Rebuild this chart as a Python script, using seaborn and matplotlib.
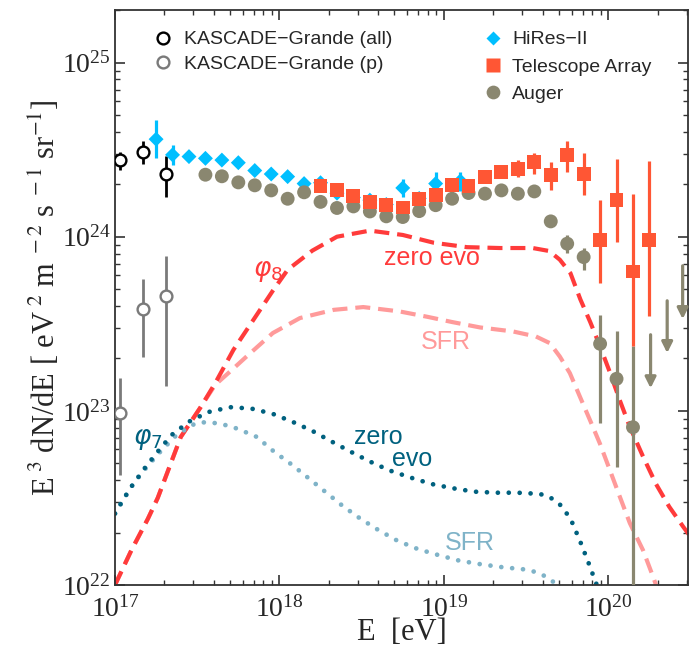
import numpy as np
import pandas as pd
import matplotlib
matplotlib.use('Agg')
import matplotlib.pyplot as plt
import seaborn as sns
from matplotlib.ticker import LogLocator, NullFormatter
from matplotlib.lines import Line2D

# ---- data (log10 E [eV], log10 E^3 dN/dE) ----
kg_all_logE = [17.03, 17.17, 17.31]
kg_all_logF = [24.44, 24.485, 24.36]
kg_all_hi = [24.485, 24.548, 24.462]
kg_all_lo = [24.381, 24.42, 24.228]

kg_p_logE = [17.03, 17.17, 17.31]
kg_p_logF = [22.99, 23.587, 23.66]
kg_p_hi = [23.19, 23.76, 23.89]
kg_p_lo = [22.63, 23.31, 23.14]

hires_logE = [17.25, 17.35, 17.45, 17.55, 17.65, 17.75, 17.85, 17.95, 18.05, 18.15,
              18.25, 18.35, 18.45, 18.55, 18.65, 18.75, 18.85, 18.95, 19.10]
hires_logF = [24.56, 24.47, 24.46, 24.45, 24.44, 24.425, 24.38, 24.36, 24.345, 24.305,
              24.31, 24.25, 24.225, 24.21, 24.185, 24.28, 24.22, 24.305, 24.32]
hires_hi = [24.67, 24.525, 24.48, 24.47, 24.46, 24.445, 24.40, 24.38, 24.365, 24.325,
            24.33, 24.27, 24.245, 24.23, 24.205, 24.33, 24.24, 24.37, 24.37]
hires_lo = [24.45, 24.41, 24.44, 24.43, 24.42, 24.405, 24.36, 24.34, 24.325, 24.285,
            24.29, 24.23, 24.205, 24.19, 24.165, 24.23, 24.20, 24.25, 24.26]

ta_logE = [18.25, 18.35, 18.45, 18.55, 18.65, 18.75, 18.85, 18.95, 19.05, 19.15, 19.25,
           19.35, 19.45, 19.55, 19.65, 19.75, 19.85, 19.95, 20.05, 20.15, 20.25]
ta_logF = [24.289, 24.266, 24.232, 24.20, 24.18, 24.168, 24.218, 24.238, 24.299, 24.293, 24.343,
           24.372, 24.391, 24.429, 24.356, 24.471, 24.362, 23.983, 24.209, 23.80, 23.983]
ta_hi = [24.30, 24.28, 24.245, 24.215, 24.195, 24.18, 24.235, 24.255, 24.32, 24.315, 24.365,
         24.40, 24.44, 24.481, 24.427, 24.548, 24.481, 24.213, 24.447, 24.247, 24.433]
ta_lo = [24.28, 24.255, 24.22, 24.185, 24.165, 24.155, 24.20, 24.22, 24.28, 24.27, 24.32,
         24.345, 24.34, 24.362, 24.266, 24.372, 24.241, 23.737, 23.967, 23.37, 23.546]

auger_logE = [17.55, 17.65, 17.75, 17.85, 17.95, 18.05, 18.15, 18.25, 18.35, 18.45, 18.55,
              18.65, 18.75, 18.85, 18.95, 19.05, 19.15, 19.25, 19.35, 19.45, 19.55, 19.65,
              19.75, 19.85, 19.95, 20.05, 20.15]
auger_logF = [24.356, 24.347, 24.312, 24.295, 24.266, 24.218, 24.255, 24.20, 24.165, 24.174, 24.145,
              24.117, 24.113, 24.147, 24.181, 24.218, 24.251, 24.247, 24.266, 24.247, 24.26, 24.088,
              23.96, 23.883, 23.385, 23.184, 22.906]
auger_hi = [24.37, 24.36, 24.325, 24.31, 24.28, 24.23, 24.27, 24.215, 24.18, 24.19, 24.16,
            24.13, 24.13, 24.16, 24.195, 24.235, 24.265, 24.265, 24.285, 24.265, 24.28, 24.12,
            24.011, 23.935, 23.552, 23.456, 23.374]
auger_lo = [24.34, 24.33, 24.30, 24.28, 24.25, 24.205, 24.24, 24.185, 24.15, 24.16, 24.13,
            24.10, 24.10, 24.13, 24.165, 24.20, 24.235, 24.23, 24.25, 24.23, 24.24, 24.06,
            23.906, 23.81, 22.933, 22.676, 21.0]

# Auger upper limits (arrow top / arrow tip)
ul_logE = [20.257, 20.358, 20.452]
ul_top = [23.437, 23.632, 23.833]
ul_tip = [23.13, 23.332, 23.527]

# model curves
p8_zero_logE = [17.0, 17.1, 17.2, 17.26, 17.40, 17.52, 17.61, 17.72, 17.84, 17.96, 18.05, 18.2,
                18.35, 18.55, 18.75, 18.94, 19.14, 19.34, 19.54, 19.64, 19.705, 19.77, 19.83,
                19.89, 19.95, 20.01, 20.07, 20.13, 20.21, 20.29, 20.37, 20.455, 20.49]
p8_zero_logF = [22.0, 22.2, 22.38, 22.50, 22.85, 23.02, 23.16, 23.35, 23.52, 23.69, 23.81, 23.92,
                24.00, 24.035, 24.01, 23.965, 23.94, 23.935, 23.935, 23.918, 23.868, 23.79, 23.64,
                23.51, 23.37, 23.22, 23.06, 22.91, 22.74, 22.58, 22.45, 22.335, 22.29]

p8_sfr_logE = [17.0, 17.1, 17.2, 17.26, 17.40, 17.52, 17.61, 17.70, 17.80, 17.96, 18.125, 18.33,
               18.51, 18.73, 18.9, 19.05, 19.22, 19.42, 19.56, 19.644, 19.705, 19.766, 19.827,
               19.888, 19.948, 20.009, 20.07, 20.131, 20.211, 20.272, 20.29]
p8_sfr_logF = [22.0, 22.2, 22.38, 22.5, 22.85, 23.02, 23.15, 23.226, 23.312, 23.447, 23.533, 23.58,
               23.596, 23.571, 23.54, 23.51, 23.479, 23.456, 23.427, 23.389, 23.312, 23.217, 23.082,
               22.948, 22.814, 22.661, 22.507, 22.355, 22.20, 22.048, 22.0]

p7_zero_logE = [17.0, 17.05, 17.10, 17.18, 17.26, 17.345, 17.452, 17.567, 17.70, 17.83, 17.959,
                18.08, 18.2, 18.317, 18.432, 18.55, 18.672, 18.797, 18.925, 19.052, 19.184,
                19.316, 19.448, 19.584, 19.644, 19.699, 19.74, 19.776, 19.827, 19.877, 19.922, 19.93]
p7_zero_logF = [22.41, 22.49, 22.565, 22.67, 22.766, 22.862, 22.939, 22.993, 23.021, 23.013, 22.983,
                22.937, 22.885, 22.824, 22.766, 22.709, 22.657, 22.617, 22.58, 22.556, 22.536,
                22.53, 22.53, 22.523, 22.504, 22.47, 22.421, 22.368, 22.255, 22.134, 22.019, 22.0]

p7_sfr_logE = [17.0, 17.05, 17.10, 17.162, 17.26, 17.375, 17.49, 17.553, 17.618, 17.683, 17.746,
               17.861, 17.967, 18.074, 18.175, 18.283, 18.382, 18.489, 18.601, 18.716, 18.84,
               18.966, 19.093, 19.225, 19.357, 19.486, 19.553, 19.61, 19.664, 19.68]
p7_sfr_logF = [22.41, 22.49, 22.565, 22.642, 22.75, 22.862, 22.929, 22.935, 22.929, 22.916, 22.897,
               22.851, 22.766, 22.692, 22.615, 22.532, 22.456, 22.383, 22.316, 22.255, 22.207,
               22.172, 22.14, 22.119, 22.102, 22.09, 22.076, 22.053, 22.019, 22.0]

c_red = '#ff3b3b'
c_pink = '#ff9a9a'
c_teal = '#00617f'
c_lblue = '#7fb3c8'
c_hires = '#00bfff'
c_ta = '#ff5634'
c_auger = '#8a8770'
c_kgp = '#7a7a7a'

sns.set_style('ticks')
plt.rcParams['font.family'] = ['Liberation Serif', 'DejaVu Serif']
plt.rcParams['mathtext.fontset'] = 'stix'
plt.rcParams['axes.linewidth'] = 1.3

fig = plt.figure(figsize=(6.99, 6.54), dpi=100)
ax = fig.add_axes([0.1645, 0.1055, 0.8197, 0.879])


def curve(lx, ly):
    return pd.DataFrame({'E': 10 ** np.array(lx), 'F': 10 ** np.array(ly)})


# curves
sns.lineplot(data=curve(p8_sfr_logE, p8_sfr_logF), x='E', y='F', ax=ax, sort=False,
             color=c_pink, lw=3.0, linestyle=(0, (3.6, 1.9)))
sns.lineplot(data=curve(p8_zero_logE, p8_zero_logF), x='E', y='F', ax=ax, sort=False,
             color=c_red, lw=3.0, linestyle=(0, (3.6, 1.9)))
sns.lineplot(data=curve(p7_sfr_logE, p7_sfr_logF), x='E', y='F', ax=ax, sort=False,
             color=c_lblue, lw=3.4, linestyle=(0, (0.01, 2.3)), dash_capstyle='round')
sns.lineplot(data=curve(p7_zero_logE, p7_zero_logF), x='E', y='F', ax=ax, sort=False,
             color=c_teal, lw=3.4, linestyle=(0, (0.01, 2.3)), dash_capstyle='round')


def points(lx, ly, hi, lo, color, marker, s, lw_err=2.3, face=None, edge=None, mew=0):
    E = 10 ** np.array(lx)
    ax.vlines(E, 10 ** np.array(lo), 10 ** np.array(hi), colors=color, lw=lw_err, zorder=3)
    df = pd.DataFrame({'E': E, 'F': 10 ** np.array(ly)})
    sns.scatterplot(data=df, x='E', y='F', ax=ax, marker=marker, s=s,
                    color=face if face is not None else color,
                    edgecolor=edge if edge is not None else 'none', linewidth=mew, zorder=4)


points(hires_logE, hires_logF, hires_hi, hires_lo, c_hires, 'D', 58)
points(auger_logE, auger_logF, auger_hi, auger_lo, c_auger, 'o', 100)
points(ta_logE, ta_logF, ta_hi, ta_lo, c_ta, 's', 100)
points(kg_all_logE, kg_all_logF, kg_all_hi, kg_all_lo, 'black', 'o', 72, lw_err=2.0,
       face='white', edge='black', mew=1.7)
points(kg_p_logE, kg_p_logF, kg_p_hi, kg_p_lo, c_kgp, 'o', 72, lw_err=2.0,
       face='white', edge=c_kgp, mew=1.7)

for e, t, b in zip(ul_logE, ul_top, ul_tip):
    ax.annotate('', xy=(10 ** e, 10 ** b), xytext=(10 ** e, 10 ** t),
                arrowprops=dict(arrowstyle='-|>', color=c_auger, lw=2.3,
                                mutation_scale=16, shrinkA=0, shrinkB=0), zorder=3)

ax.set_xscale('log')
ax.set_yscale('log')
ax.set_xlim(1e17, 3.05e20)
ax.set_ylim(1e22, 2.0e25)

ax.xaxis.set_major_locator(LogLocator(base=10, numticks=10))
ax.yaxis.set_major_locator(LogLocator(base=10, numticks=10))
ax.xaxis.set_minor_locator(LogLocator(base=10, subs=np.arange(2, 10), numticks=20))
ax.yaxis.set_minor_locator(LogLocator(base=10, subs=np.arange(2, 10), numticks=20))
ax.xaxis.set_minor_formatter(NullFormatter())
ax.yaxis.set_minor_formatter(NullFormatter())
ax.tick_params(which='both', direction='in', top=True, right=True, color='#333333')
ax.tick_params(which='major', length=7, width=1.2, labelsize=20)
ax.tick_params(axis='x', which='major', pad=8)
ax.tick_params(axis='y', which='major', pad=3)
ax.tick_params(which='minor', length=3.5, width=1.0)
for sp in ax.spines.values():
    sp.set_color('#333333')

ax.set_xlabel('E  [eV]', fontsize=22, labelpad=-3)
ax.set_ylabel(r'E$^{\ 3}$ dN/dE [ eV$^{\ 2}$ m$^{\ -2}$ s$^{\ -1}$ sr$^{-1}$]',
              fontsize=22, labelpad=0)

# labels on curves
sans = ['Liberation Sans', 'DejaVu Sans']
ax.text(10 ** 17.93, 10 ** 23.80, r'$\varphi_8$', color=c_red, fontsize=19,
        math_fontfamily='dejavusans', ha='center', va='center')
ax.text(10 ** 18.93, 10 ** 23.875, 'zero evo', color=c_red, fontsize=18, family=sans,
        ha='center', va='center')
ax.text(10 ** 19.01, 10 ** 23.395, 'SFR', color=c_pink, fontsize=18, family=sans,
        ha='center', va='center')
ax.text(10 ** 17.20, 10 ** 22.835, r'$\varphi_7$', color=c_teal, fontsize=19,
        math_fontfamily='dejavusans', ha='center', va='center')
ax.text(10 ** 18.60, 10 ** 22.85, 'zero', color=c_teal, fontsize=18, family=sans,
        ha='center', va='center')
ax.text(10 ** 18.805, 10 ** 22.725, 'evo', color=c_teal, fontsize=18, family=sans,
        ha='center', va='center')
ax.text(10 ** 19.16, 10 ** 22.24, 'SFR', color=c_lblue, fontsize=18, family=sans,
        ha='center', va='center')

# legends
h1 = [Line2D([], [], ls='none', marker='o', ms=8.5, mfc='white', mec='black', mew=1.7),
      Line2D([], [], ls='none', marker='o', ms=8.5, mfc='white', mec=c_kgp, mew=1.7)]
leg1 = ax.legend(h1, ['KASCADE\u2212Grande (all)', 'KASCADE\u2212Grande (p)'],
                 loc='upper left', bbox_to_anchor=(0.066, 0.964), frameon=False,
                 prop={'family': sans, 'size': 14}, handlelength=1.0, handletextpad=0.6,
                 labelspacing=0.35, borderpad=0, borderaxespad=0)
ax.add_artist(leg1)
h2 = [Line2D([], [], ls='none', marker='D', ms=7.6, mfc=c_hires, mec='none'),
      Line2D([], [], ls='none', marker='s', ms=10, mfc=c_ta, mec='none'),
      Line2D([], [], ls='none', marker='o', ms=9.9, mfc=c_auger, mec='none')]
ax.legend(h2, ['HiRes\u2212II', 'Telescope Array', 'Auger'],
          loc='upper left', bbox_to_anchor=(0.642, 0.964), frameon=False,
          prop={'family': sans, 'size': 14}, handlelength=1.0, handletextpad=0.5,
          labelspacing=0.5, borderpad=0, borderaxespad=0)

fig.savefig('out.png', dpi=100)
